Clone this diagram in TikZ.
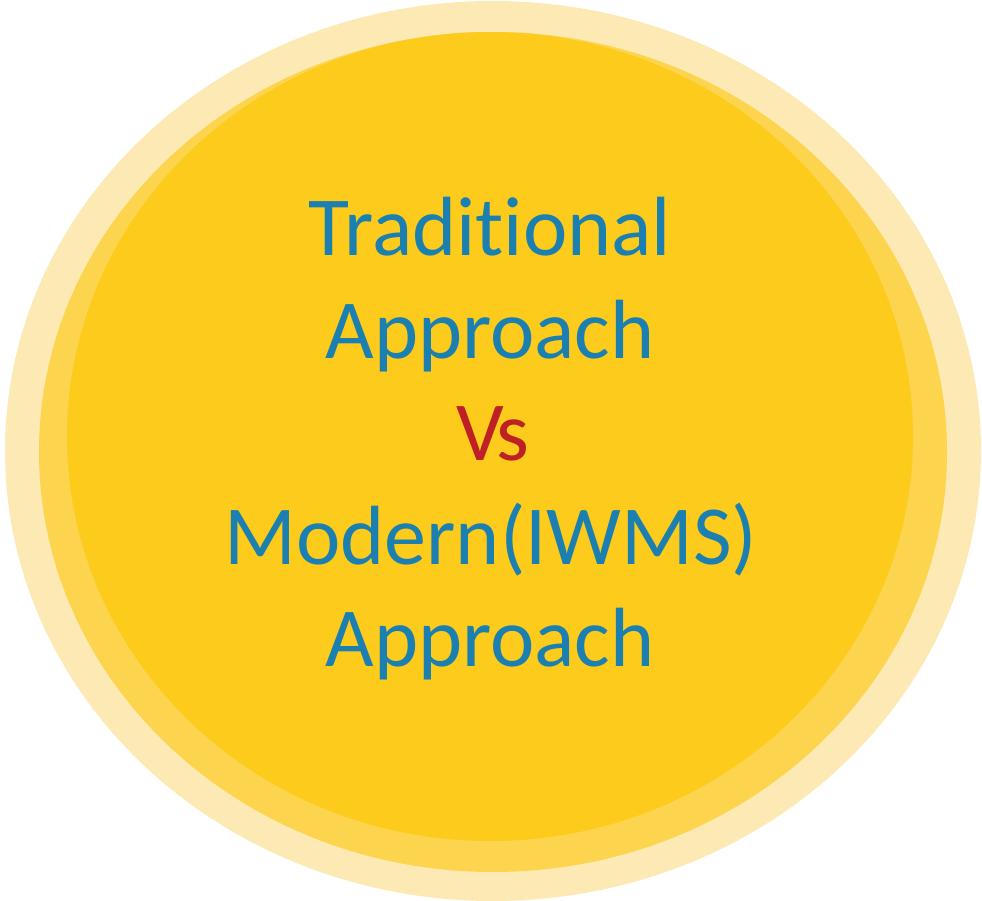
\documentclass[tikz,border=0pt]{standalone}
\usepackage{fontspec}
\setmainfont[Ligatures=NoCommon,Contextuals=NoAlternate]{Carlito}
\definecolor{outerc}{HTML}{FDE9B3}
\definecolor{midc}{HTML}{FDD44E}
\definecolor{innerc}{HTML}{FCCB1C}
\definecolor{textb}{HTML}{1B80AF}
\definecolor{textr}{HTML}{BE2026}
\tikzset{lab/.style={text=textb,font=\fontsize{84}{84}\selectfont,inner sep=0pt,anchor=base}}
\begin{document}
\begin{tikzpicture}[x=1pt,y=-1pt]
\useasboundingbox (0,0) rectangle (982,901);
\fill[outerc] (493,451) ellipse [x radius=488,y radius=450];
\fill[midc] (493,452) ellipse [x radius=454,y radius=420];
\fill[innerc] (490,436.5) ellipse [x radius=423,y radius=404.5];
\node[lab] (t1) at (490,255) {Traditional};
\node[lab] (t2) at (490,358) {Approach};
\node[lab,text=textr] (t3) at (493,460) {V\kern-7pt s};
\node[lab] (t4) at (491,564) {Modern(IWMS)};
\node[lab] (t5) at (490,666) {Approach};
\end{tikzpicture}
\end{document}
